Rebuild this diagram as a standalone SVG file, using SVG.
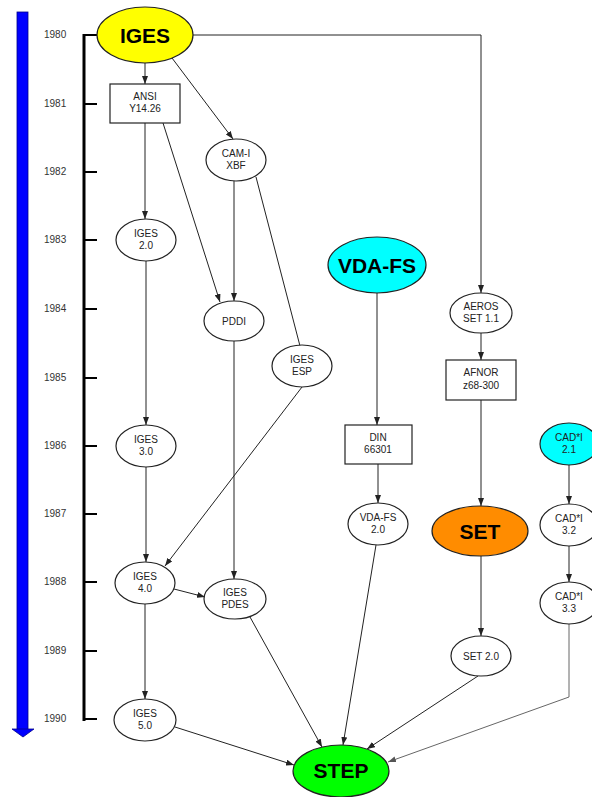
<svg xmlns="http://www.w3.org/2000/svg" width="592" height="797" viewBox="0 0 592 797">
  <defs>
    <marker id="arr" markerUnits="userSpaceOnUse" markerWidth="8" markerHeight="6" refX="8" refY="3" orient="auto">
      <path d="M0,0 L8,3 L0,6 z" fill="#222"/>
    </marker>
    <marker id="arrg" markerUnits="userSpaceOnUse" markerWidth="8" markerHeight="6" refX="8" refY="3" orient="auto">
      <path d="M0,0 L8,3 L0,6 z" fill="#555"/>
    </marker>
  </defs>
  <style>
    .yr { font-family: "Liberation Sans", Arial, sans-serif; font-size: 10px; fill: #333; }
    .lbl { font-family: "Liberation Sans", Arial, sans-serif; font-size: 10px; fill: #222; text-anchor: middle; }
    .big { font-family: "Liberation Sans", Arial, sans-serif; font-size: 21px; font-weight: bold; fill: #000; text-anchor: middle; }
    .node { fill: #fff; stroke: #222; stroke-width: 1.2; }
    .edge { fill: none; stroke: #222; stroke-width: 1; marker-end: url(#arr); }
    .plain { fill: none; stroke: #222; stroke-width: 1; }
    .tick { stroke: #000; stroke-width: 2; }
  </style>
  <rect width="592" height="797" fill="#fff"/>

  <!-- time arrow -->
  <g id="time-arrow">
    <rect x="17" y="12" width="11" height="718" fill="#0000ff" stroke="#00008b" stroke-width="0.8"/>
    <polygon points="12,729 34,729 23,737" fill="#0000ff" stroke="#00008b" stroke-width="0.8"/>
  </g>

  <!-- year scale -->
  <g id="years">
    <line x1="84" y1="34" x2="84" y2="721" stroke="#000" stroke-width="3"/>
    <line class="tick" x1="84" y1="35" x2="97" y2="35"/>
    <line class="tick" x1="84" y1="104" x2="97" y2="104"/>
    <line class="tick" x1="84" y1="172" x2="97" y2="172"/>
    <line class="tick" x1="84" y1="240" x2="97" y2="240"/>
    <line class="tick" x1="84" y1="309" x2="97" y2="309"/>
    <line class="tick" x1="84" y1="378" x2="97" y2="378"/>
    <line class="tick" x1="84" y1="446" x2="97" y2="446"/>
    <line class="tick" x1="84" y1="514" x2="97" y2="514"/>
    <line class="tick" x1="84" y1="582" x2="97" y2="582"/>
    <line class="tick" x1="84" y1="651" x2="97" y2="651"/>
    <line class="tick" x1="84" y1="719" x2="97" y2="719"/>
    <text class="yr" x="44" y="38">1980</text>
    <text class="yr" x="44" y="107">1981</text>
    <text class="yr" x="44" y="175">1982</text>
    <text class="yr" x="44" y="243">1983</text>
    <text class="yr" x="44" y="312">1984</text>
    <text class="yr" x="44" y="381">1985</text>
    <text class="yr" x="44" y="449">1986</text>
    <text class="yr" x="44" y="517">1987</text>
    <text class="yr" x="44" y="585">1988</text>
    <text class="yr" x="44" y="654">1989</text>
    <text class="yr" x="44" y="722">1990</text>
  </g>

  <!-- connectors -->
  <g id="edges">
    <line class="edge" x1="145" y1="63" x2="145" y2="84"/>
    <line class="edge" x1="172" y1="58" x2="233" y2="139"/>
    <polyline class="edge" points="193,35 481,35 481,293"/>
    <line class="edge" x1="145" y1="123" x2="145" y2="219"/>
    <line class="edge" x1="163" y1="123" x2="220" y2="302"/>
    <line class="edge" x1="234" y1="181" x2="234" y2="301"/>
    <line class="plain" x1="256" y1="177" x2="300" y2="346"/>
    <line class="edge" x1="146" y1="261" x2="146" y2="425"/>
    <line class="edge" x1="234" y1="341" x2="234" y2="579"/>
    <line class="edge" x1="302" y1="387" x2="165" y2="566"/>
    <line class="edge" x1="146" y1="467" x2="146" y2="562"/>
    <line class="edge" x1="174" y1="589" x2="205" y2="597"/>
    <line class="edge" x1="145" y1="604" x2="145" y2="699"/>
    <line class="edge" x1="175" y1="727" x2="294" y2="765"/>
    <line class="edge" x1="250" y1="617" x2="322" y2="747"/>
    <line class="edge" x1="377" y1="293" x2="377" y2="425"/>
    <line class="edge" x1="378" y1="464" x2="378" y2="503"/>
    <line class="edge" x1="376" y1="545" x2="343" y2="745"/>
    <line class="edge" x1="481" y1="333" x2="481" y2="360"/>
    <line class="edge" x1="481" y1="400" x2="481" y2="506"/>
    <line class="edge" x1="481" y1="556" x2="481" y2="636"/>
    <line class="edge" x1="478" y1="676" x2="367" y2="749"/>
    <line class="edge" x1="569" y1="465" x2="569" y2="504"/>
    <line class="edge" x1="569" y1="546" x2="569" y2="582"/>
    <polyline fill="none" stroke="#666" stroke-width="1" marker-end="url(#arrg)" points="569,624 569,697 388,762"/>
  </g>

  <!-- nodes -->
  <g id="n-iges">
    <ellipse cx="145" cy="35" rx="48" ry="28" fill="#ffff00" stroke="#222" stroke-width="1.2"/>
    <text class="big" x="145" y="43">IGES</text>
  </g>
  <g id="n-ansi">
    <rect class="node" x="110" y="84" width="70" height="39"/>
    <text class="lbl" x="145" y="100">ANSI</text>
    <text class="lbl" x="145" y="112">Y14.26</text>
  </g>
  <g id="n-cami">
    <ellipse class="node" cx="236" cy="160" rx="30" ry="21"/>
    <text class="lbl" x="236" y="157">CAM-I</text>
    <text class="lbl" x="236" y="169">XBF</text>
  </g>
  <g id="n-iges20">
    <ellipse class="node" cx="146" cy="240" rx="30" ry="21"/>
    <text class="lbl" x="146" y="237">IGES</text>
    <text class="lbl" x="146" y="249">2.0</text>
  </g>
  <g id="n-pddi">
    <ellipse class="node" cx="234" cy="321" rx="30" ry="20"/>
    <text class="lbl" x="234" y="325">PDDI</text>
  </g>
  <g id="n-iges-esp">
    <ellipse class="node" cx="302" cy="366" rx="30" ry="21"/>
    <text class="lbl" x="302" y="363">IGES</text>
    <text class="lbl" x="302" y="375">ESP</text>
  </g>
  <g id="n-iges30">
    <ellipse class="node" cx="146" cy="446" rx="30" ry="21"/>
    <text class="lbl" x="146" y="443">IGES</text>
    <text class="lbl" x="146" y="455">3.0</text>
  </g>
  <g id="n-iges40">
    <ellipse class="node" cx="145" cy="583" rx="30" ry="21"/>
    <text class="lbl" x="145" y="580">IGES</text>
    <text class="lbl" x="145" y="592">4.0</text>
  </g>
  <g id="n-iges-pdes">
    <ellipse class="node" cx="235" cy="599" rx="31" ry="20"/>
    <text class="lbl" x="235" y="596">IGES</text>
    <text class="lbl" x="235" y="608">PDES</text>
  </g>
  <g id="n-iges50">
    <ellipse class="node" cx="145" cy="720" rx="31" ry="21"/>
    <text class="lbl" x="145" y="717">IGES</text>
    <text class="lbl" x="145" y="729">5.0</text>
  </g>
  <g id="n-vdafs">
    <ellipse cx="377" cy="265" rx="49" ry="28" fill="#00ffff" stroke="#222" stroke-width="1.2"/>
    <text class="big" x="377" y="273">VDA-FS</text>
  </g>
  <g id="n-din">
    <rect class="node" x="345" y="425" width="67" height="39"/>
    <text class="lbl" x="378" y="441">DIN</text>
    <text class="lbl" x="378" y="453">66301</text>
  </g>
  <g id="n-vdafs20">
    <ellipse class="node" cx="378" cy="524" rx="30" ry="21"/>
    <text class="lbl" x="378" y="521">VDA-FS</text>
    <text class="lbl" x="378" y="533">2.0</text>
  </g>
  <g id="n-aeros">
    <ellipse class="node" cx="481" cy="313" rx="31" ry="20"/>
    <text class="lbl" x="481" y="310">AEROS</text>
    <text class="lbl" x="481" y="322">SET 1.1</text>
  </g>
  <g id="n-afnor">
    <rect class="node" x="446" y="360" width="70" height="40"/>
    <text class="lbl" x="481" y="376">AFNOR</text>
    <text class="lbl" x="481" y="389">z68-300</text>
  </g>
  <g id="n-set">
    <ellipse cx="480" cy="531" rx="48" ry="25" fill="#ff8c00" stroke="#222" stroke-width="1.2"/>
    <text class="big" x="480" y="539">SET</text>
  </g>
  <g id="n-set20">
    <ellipse class="node" cx="481" cy="656" rx="30" ry="20"/>
    <text class="lbl" x="481" y="660">SET 2.0</text>
  </g>
  <g id="n-cadi21">
    <ellipse cx="569" cy="444" rx="29" ry="21" fill="#00ffff" stroke="#222" stroke-width="1.2"/>
    <text class="lbl" x="569" y="441">CAD*I</text>
    <text class="lbl" x="569" y="453">2.1</text>
  </g>
  <g id="n-cadi32">
    <ellipse class="node" cx="569" cy="525" rx="29" ry="21"/>
    <text class="lbl" x="569" y="522">CAD*I</text>
    <text class="lbl" x="569" y="534">3.2</text>
  </g>
  <g id="n-cadi33">
    <ellipse class="node" cx="569" cy="603" rx="29" ry="21"/>
    <text class="lbl" x="569" y="600">CAD*I</text>
    <text class="lbl" x="569" y="612">3.3</text>
  </g>
  <g id="n-step">
    <ellipse cx="341" cy="771" rx="48" ry="26" fill="#00ff00" stroke="#222" stroke-width="1.2"/>
    <text class="big" x="341" y="778">STEP</text>
  </g>
</svg>
